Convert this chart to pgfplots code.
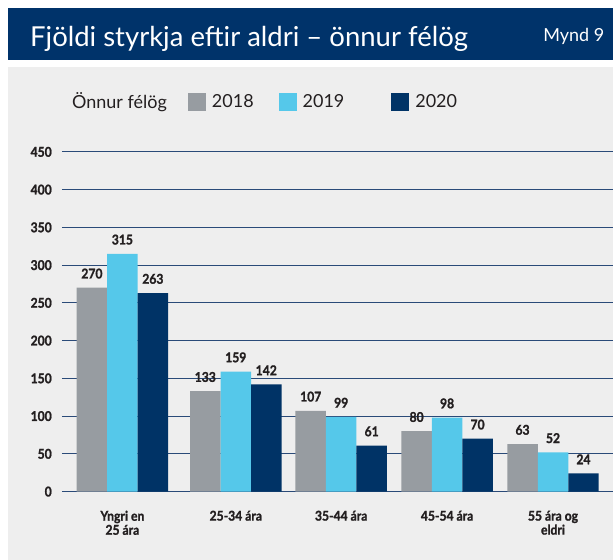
\documentclass[border=0pt]{standalone}
\usepackage{pgfplots}
\pgfplotsset{compat=1.18}
\usepackage{fontspec}
\setmainfont{Lato}
\newfontfamily\numfont[FakeStretch=0.9, BoldFeatures={FakeBold=1.3}]{Lato}
\definecolor{hdr}{HTML}{00336A}
\definecolor{bg}{HTML}{EEEEEE}
\definecolor{cgray}{HTML}{979CA1}
\definecolor{ccyan}{HTML}{55C8EA}
\definecolor{cnavy}{HTML}{003366}
\definecolor{gridc}{HTML}{2A4A78}
\definecolor{txt}{HTML}{231F20}
\begin{document}
\begin{tikzpicture}[x=1pt,y=1pt]
\fill[white] (0,0) rectangle (614,560);
\fill[hdr] (8,500) rectangle (614,552);
\fill[bg] (8,0) rectangle (614,493);
\node[anchor=west, text=white, font=\fontsize{27.5}{30}\selectfont, inner sep=0pt] at (30,521) {Fjöldi styrkja eftir aldri – önnur félög};
\node[anchor=east, text=white, font=\fontsize{18}{20}\selectfont, inner sep=0pt] at (605,524) {Mynd 9};
\node[anchor=west, text=txt, font=\fontsize{18}{20}\selectfont, inner sep=0pt] at (72,458) {Önnur félög};
\begin{axis}[
  at={(62pt,68pt)}, anchor=south west,
  scale only axis, width=552pt, height=340pt,
  xmin=62, xmax=614, ymin=0, ymax=450,
  clip=false,
  axis line style={draw=none},
  major tick length=0pt,
  ytick={0,50,...,450},
  ymajorgrids, grid style={line width=1.1pt, color=gridc},
  xtick={122.5,236,341.5,447.5,553.5},
  xticklabels={{Yngri en\\25 ára},{25-34 ára},{35-44 ára},{45-54 ára},{55 ára og\\eldri}},
  /pgf/number format/assume math mode=true,
  yticklabel style={anchor=east, inner sep=0pt, xshift=-10pt, text=txt, font=\numfont\bfseries\fontsize{13.5}{14}\selectfont},
  xticklabel style={anchor=north, align=center, inner sep=0pt, yshift=-19pt, text=txt, font=\numfont\bfseries\fontsize{13.5}{14}\selectfont},
  ybar=0pt, bar width=30.5,
  nodes near coords,
  every node near coord/.append style={anchor=south, inner sep=0pt, yshift=9pt, text=txt, font=\numfont\bfseries\fontsize{13.5}{14}\selectfont},
  legend image code/.code={\fill[#1] (0pt,-9pt) rectangle (18pt,9pt);},
  legend style={at={(rel axis cs:0.2228,1.147)}, anchor=west, draw=none, fill=none,
    legend columns=3, font=\fontsize{18}{20}\selectfont, text=txt,
    nodes={inner xsep=6pt, inner ysep=0pt},
    /tikz/column 2/.style={column sep=19pt},
    /tikz/column 4/.style={column sep=41pt}},
]
\addplot[fill=cgray, draw=none] coordinates {(122.5,270) (236,133) (341.5,107) (447.5,80) (553.5,63)};
\addplot[fill=ccyan, draw=none] coordinates {(122.5,315) (236,159) (341.5,99) (447.5,98) (553.5,52)};
\addplot[fill=cnavy, draw=none] coordinates {(122.5,263) (236,142) (341.5,61) (447.5,70) (553.5,24)};
\legend{2018,2019,2020}
\end{axis}
\end{tikzpicture}
\end{document}
